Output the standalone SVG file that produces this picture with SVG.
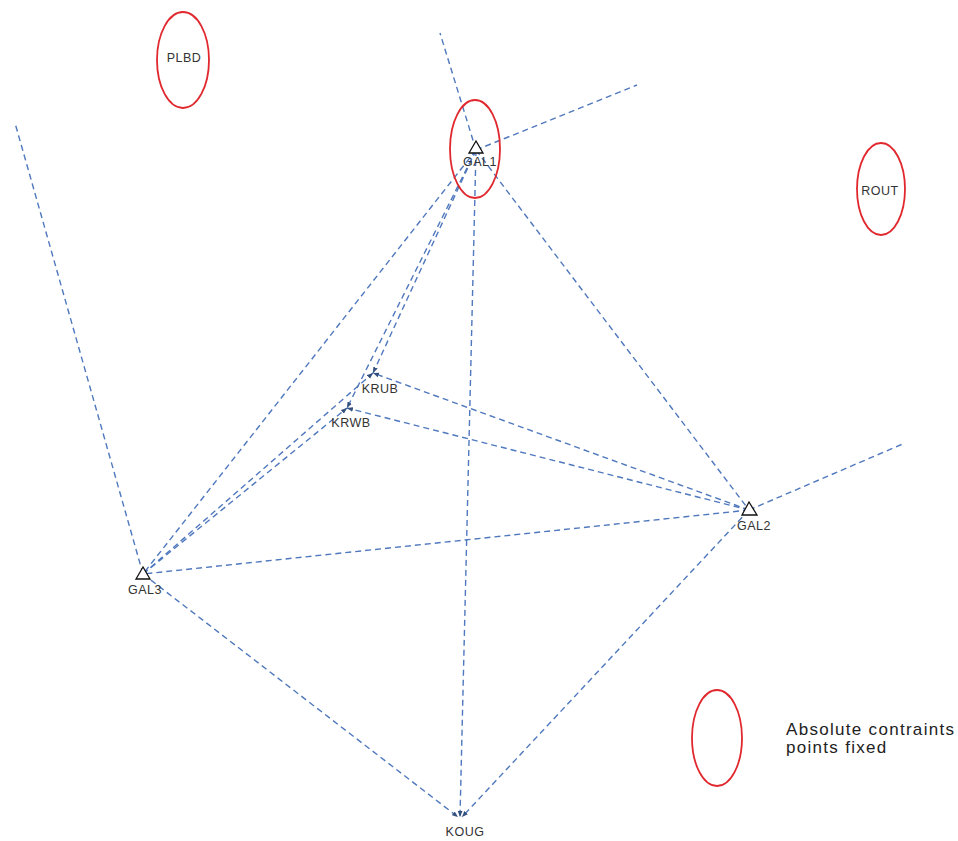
<svg xmlns="http://www.w3.org/2000/svg" width="958" height="841" viewBox="0 0 958 841">
<defs>
<style>
.c{fill:none;stroke:#4f78bd;stroke-width:1.4;stroke-dasharray:6 4}
.e{fill:none;stroke:#e0282e;stroke-width:1.8}
.t{font-family:"Liberation Sans",Arial,sans-serif;font-size:12.5px;fill:#333;text-anchor:middle;letter-spacing:0.5px}
.tri{fill:#fff;stroke:#111;stroke-width:1.3}
.lg{font-family:"Liberation Sans",Arial,sans-serif;font-size:17px;fill:#222;letter-spacing:1.3px}
</style>
<marker id="a" viewBox="0 0 10 10" refX="10" refY="5" markerWidth="6" markerHeight="6" orient="auto" markerUnits="userSpaceOnUse">
<path d="M0,1 L10,5 L0,9 z" fill="#34507e"/>
</marker>
</defs>
<rect width="958" height="841" fill="#fff"/>
<g id="connectors">
<line class="c" x1="476" y1="150" x2="440" y2="33"/>
<line class="c" x1="476" y1="150" x2="637" y2="85"/>
<line class="c" x1="476" y1="150" x2="749" y2="510"/>
<line class="c" x1="476" y1="150" x2="460" y2="817" marker-end="url(#a)"/>
<line class="c" x1="476" y1="150" x2="143" y2="574"/>
<line class="c" x1="476" y1="150" x2="373" y2="373" marker-end="url(#a)"/>
<line class="c" x1="476" y1="150" x2="347" y2="408" marker-end="url(#a)"/>
<line class="c" x1="749" y1="510" x2="905" y2="443"/>
<line class="c" x1="749" y1="510" x2="373" y2="373" marker-end="url(#a)"/>
<line class="c" x1="749" y1="510" x2="347" y2="408" marker-end="url(#a)"/>
<line class="c" x1="749" y1="510" x2="143" y2="574"/>
<line class="c" x1="749" y1="510" x2="462" y2="817" marker-end="url(#a)"/>
<line class="c" x1="143" y1="574" x2="15" y2="123"/>
<line class="c" x1="143" y1="574" x2="458" y2="817" marker-end="url(#a)"/>
<line class="c" x1="143" y1="574" x2="373" y2="373" marker-end="url(#a)"/>
<line class="c" x1="143" y1="574" x2="347" y2="408" marker-end="url(#a)"/>
</g>
<g id="GAL1">
<ellipse class="e" cx="475" cy="149" rx="25" ry="49"/>
<polygon class="tri" points="476,141 469,153 483,153"/>
<text class="t" x="480" y="166">GAL1</text>
</g>
<g id="GAL2">
<polygon class="tri" points="749,502 742,515 757,515"/>
<text class="t" x="754" y="530">GAL2</text>
</g>
<g id="GAL3">
<polygon class="tri" points="143,567 136,579 150,579"/>
<text class="t" x="145" y="594">GAL3</text>
</g>
<g id="KRUB">
<text class="t" x="380" y="393">KRUB</text>
</g>
<g id="KRWB">
<text class="t" x="351" y="427">KRWB</text>
</g>
<g id="KOUG">
<text class="t" x="465" y="836">KOUG</text>
</g>
<g id="PLBD">
<ellipse class="e" cx="183" cy="60" rx="26" ry="48"/>
<text class="t" x="184" y="62">PLBD</text>
</g>
<g id="ROUT">
<ellipse class="e" cx="881" cy="189" rx="24" ry="46"/>
<text class="t" x="880" y="195">ROUT</text>
</g>
<g id="legend">
<ellipse class="e" cx="717" cy="738" rx="25" ry="48"/>
<text class="lg" x="786" y="735">Absolute contraints</text>
<text class="lg" x="786" y="753">points fixed</text>
</g>
</svg>
